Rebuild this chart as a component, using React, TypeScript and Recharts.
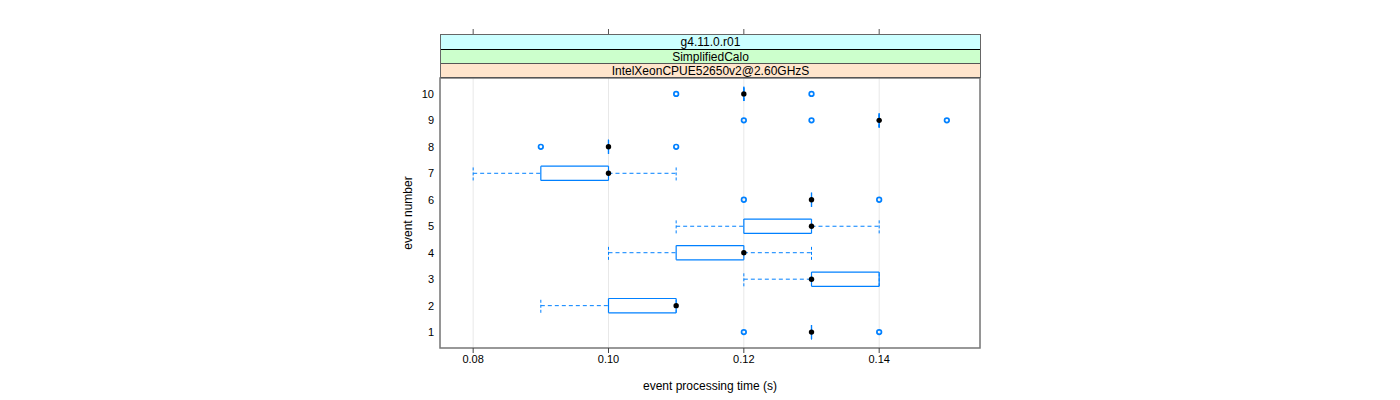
import React from 'react';
import {
  ComposedChart,
  XAxis,
  YAxis,
  CartesianGrid,
  Scatter,
  ReferenceLine,
  ReferenceArea,
} from 'recharts';

// ---- data ----
const events = [1, 2, 3, 4, 5, 6, 7, 8, 9, 10];
const whiskerLow = [0.13, 0.09, 0.12, 0.1, 0.11, 0.13, 0.08, 0.1, 0.14, 0.12];
const boxLow = [0.13, 0.1, 0.13, 0.11, 0.12, 0.13, 0.09, 0.1, 0.14, 0.12];
const medians = [0.13, 0.11, 0.13, 0.12, 0.13, 0.13, 0.1, 0.1, 0.14, 0.12];
const boxHigh = [0.13, 0.11, 0.14, 0.12, 0.13, 0.13, 0.1, 0.1, 0.14, 0.12];
const whiskerHigh = [0.13, 0.11, 0.14, 0.13, 0.14, 0.13, 0.11, 0.1, 0.14, 0.12];
const outliers = [
  [0.12, 0.14],
  [],
  [],
  [],
  [],
  [0.12, 0.14],
  [],
  [0.09, 0.11],
  [0.12, 0.13, 0.15],
  [0.11, 0.13],
];
const xTicks = [0.08, 0.1, 0.12, 0.14];
const xDomain = [0.0751, 0.1549];
const yDomain = [0.4, 10.6];
const stripLabels = ['g4.11.0.r01', 'SimplifiedCalo', 'IntelXeonCPUE52650v2@2.60GHzS'];
const stripColors = ['#ccffff', '#ccffcc', '#ffe5cc'];
const xLabel = 'event processing time (s)';
const yLabel = 'event number';

const BLUE = '#0080ff';
const FONT = '"Liberation Sans", Arial, Helvetica, sans-serif';

const medianPts = events.map((e, i) => ({ x: medians[i], y: e }));
const outlierPts = events.flatMap((e, i) => outliers[i].map((v) => ({ x: v, y: e })));

const OpenCircle = (p: any) => (
  <circle cx={p.cx} cy={p.cy} r={2.3} fill="none" stroke={BLUE} strokeWidth={1.7} />
);
const Dot = (p: any) => <circle cx={p.cx} cy={p.cy} r={2.7} fill="#000" stroke="none" />;
const NoLabel = () => <g />;

export default function App() {
  const half = 0.27;
  const marks: React.ReactNode[] = [];
  events.forEach((ev, i) => {
    const dash = '4 3';
    if (whiskerLow[i] < boxLow[i]) {
      marks.push(
        <ReferenceLine
          key={`wl${ev}`}
          segment={[{ x: whiskerLow[i], y: ev }, { x: boxLow[i], y: ev }]}
          stroke={BLUE}
          strokeDasharray={dash}
        />
      );
    }
    if (whiskerHigh[i] > boxHigh[i]) {
      marks.push(
        <ReferenceLine
          key={`wh${ev}`}
          segment={[{ x: boxHigh[i], y: ev }, { x: whiskerHigh[i], y: ev }]}
          stroke={BLUE}
          strokeDasharray={dash}
        />
      );
    }
    [whiskerLow[i], whiskerHigh[i]].forEach((w, k) => {
      marks.push(
        <ReferenceLine
          key={`cap${ev}_${k}`}
          segment={[{ x: w, y: ev - half }, { x: w, y: ev + half }]}
          stroke={BLUE}
          strokeDasharray="3 2"
        />
      );
    });
    const segs = [
      [boxLow[i], ev - half, boxLow[i], ev + half],
      [boxHigh[i], ev - half, boxHigh[i], ev + half],
      [boxLow[i], ev - half, boxHigh[i], ev - half],
      [boxLow[i], ev + half, boxHigh[i], ev + half],
    ];
    segs.forEach((s, k) => {
      if (k >= 2 && s[0] === s[2]) return;
      marks.push(
        <ReferenceLine
          key={`box${ev}_${k}`}
          segment={[{ x: s[0], y: s[1] }, { x: s[2], y: s[3] }]}
          stroke={BLUE}
          strokeWidth={1.2}
        />
      );
    });
  });

  return (
    <div
      style={{
        position: 'absolute',
        left: 0,
        top: 0,
        width: 1400,
        height: 400,
        background: '#fff',
        fontFamily: FONT,
      }}
    >
      <ComposedChart
        width={1400}
        height={400}
        margin={{ top: 77, right: 420, bottom: 0, left: 376 }}
        style={{ fontFamily: FONT }}
      >
        <CartesianGrid horizontal={false} stroke="#e8e8e8" />
        <XAxis
          xAxisId="top"
          orientation="top"
          type="number"
          dataKey="x"
          domain={xDomain}
          ticks={xTicks}
          allowDataOverflow
          height={1}
          tick={NoLabel}
          tickSize={49}
          interval={0}
          axisLine={false}
          tickLine={{ stroke: '#555' }}
        />
        <XAxis
          type="number"
          dataKey="x"
          domain={xDomain}
          ticks={xTicks}
          allowDataOverflow
          height={52}
          tickSize={5}
          tickMargin={2}
          axisLine={false}
          tickLine={{ stroke: '#444' }}
          tick={{ fontSize: 11, fill: '#000', fontFamily: FONT }}
          tickFormatter={(v: number) => v.toFixed(2)}
          interval={0}
          label={{
            value: xLabel,
            position: 'insideBottom',
            offset: 10,
            style: { fontSize: 12, fill: '#000', fontFamily: FONT },
          }}
        />
        <YAxis
          type="number"
          dataKey="y"
          domain={yDomain}
          ticks={events}
          allowDataOverflow
          width={64}
          interval={0}
          axisLine={false}
          tickLine={{ stroke: 'none' }}
          tickSize={4}
          tickMargin={2}
          tick={{ fontSize: 11, fill: '#000', fontFamily: FONT }}
          label={{
            value: yLabel,
            angle: -90,
            position: 'center',
            style: { fontSize: 12, fill: '#000', fontFamily: FONT, textAnchor: 'middle' },
          }}
        />
        {marks}
        <Scatter data={outlierPts} shape={OpenCircle} isAnimationActive={false} />
        <Scatter data={medianPts} shape={Dot} isAnimationActive={false} />
        <ReferenceArea
          x1={xDomain[0]}
          x2={xDomain[1]}
          y1={yDomain[0]}
          y2={yDomain[1]}
          fill="none"
          fillOpacity={0}
          stroke="#777"
          strokeWidth={1.5}
        />
      </ComposedChart>
      <div
        style={{
          position: 'absolute',
          left: 440,
          top: 34,
          width: 541,
          boxSizing: 'border-box',
          border: '1px solid #666',
          borderBottom: 'none',
        }}
      >
        {stripLabels.map((s, i) => (
          <div
            key={s}
            style={{
              height: i === 0 ? 14 : 13,
              lineHeight: `${i === 0 ? 15 : 14}px`,
              background: stripColors[i],
              borderBottom: `1px solid ${i === 0 ? '#000' : '#555'}`,
              textAlign: 'center',
              fontSize: 12,
              color: '#000',
              fontFamily: FONT,
              overflow: 'hidden',
              whiteSpace: 'nowrap',
            }}
          >
            {s}
          </div>
        ))}
      </div>
    </div>
  );
}
